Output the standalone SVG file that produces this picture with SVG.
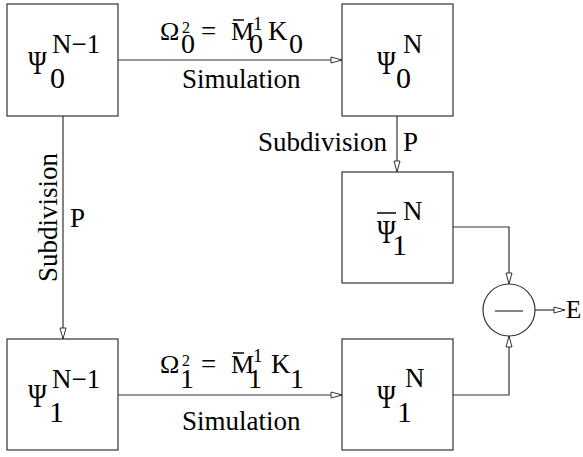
<svg xmlns="http://www.w3.org/2000/svg" width="583" height="457" viewBox="0 0 583 457">
<style>
text{font-family:"Liberation Serif","Liberation Sans",serif;fill:#000}
.box{fill:#fff;stroke:#333;stroke-width:1.2}
.ln{fill:none;stroke:#333;stroke-width:1.2}
.bar{stroke:#000;stroke-width:1.5}
.psi{font-size:34px}
.sup{font-size:27px}
.sub{font-size:30px}
.lbl{font-size:27px}
</style>
<defs>
<marker id="ah" markerUnits="userSpaceOnUse" markerWidth="12" markerHeight="8" refX="11" refY="3" orient="auto" overflow="visible">
<path d="M0,0 L11,3 L0,6 Z" fill="#fff" stroke="#333" stroke-width="1"/>
</marker>
</defs>
<g id="connectors">
<path class="ln" d="M118,60 H342" marker-end="url(#ah)"/>
<path class="ln" d="M118,395 H342" marker-end="url(#ah)"/>
<path class="ln" d="M63,116 V339" marker-end="url(#ah)"/>
<path class="ln" d="M397,116 V172" marker-end="url(#ah)"/>
<path class="ln" d="M453,227 H509 V284" marker-end="url(#ah)"/>
<path class="ln" d="M453,395 H509 V336" marker-end="url(#ah)"/>
<path class="ln" d="M535,310 H565" marker-end="url(#ah)"/>
</g>
<g id="labels">
<text class="lbl"><tspan x="160" y="40" font-size="26">Ω</tspan><tspan x="182" y="33" font-size="16">2</tspan><tspan x="181" y="53" font-size="28">0</tspan><tspan x="201" y="40">=</tspan><tspan x="231" y="40" font-size="26">M</tspan><tspan x="253" y="30" font-size="19">1</tspan><tspan x="249" y="53" font-size="28">0</tspan><tspan x="268" y="40">K</tspan><tspan x="289" y="53" font-size="28">0</tspan></text>
<line class="bar" x1="233" y1="20" x2="244" y2="20"/>
<text class="lbl" x="182" y="88">Simulation</text>
<text class="lbl"><tspan x="160" y="373" font-size="26">Ω</tspan><tspan x="182" y="366" font-size="16">2</tspan><tspan x="180" y="388" font-size="28">1</tspan><tspan x="201" y="373">=</tspan><tspan x="231" y="373" font-size="26">M</tspan><tspan x="253" y="362" font-size="19">1</tspan><tspan x="248" y="388" font-size="28">1</tspan><tspan x="271" y="373">K</tspan><tspan x="290" y="388" font-size="28">1</tspan></text>
<line class="bar" x1="233" y1="353" x2="244" y2="353"/>
<text class="lbl" x="182" y="430">Simulation</text>
<text class="lbl" x="258" y="151">Subdivision</text>
<text class="lbl" x="403" y="151">P</text>
<text class="lbl" transform="translate(57 282) rotate(-90)">Subdivision</text>
<text class="lbl" x="70" y="227">P</text>
<text style="font-size:25px" x="566" y="318">E</text>
</g>
<g id="n1">
<rect class="box" x="7" y="4" width="111" height="112"/>
<text class="psi" transform="translate(28 74) scale(0.75 1)">Ψ</text>
<text class="sup" x="52" y="53">N−1</text>
<text class="sub" x="50" y="88">0</text>
</g>
<g id="n2">
<rect class="box" x="342" y="4" width="111" height="112"/>
<text class="psi" transform="translate(377 74) scale(0.75 1)">Ψ</text>
<text class="sup" x="403" y="53">N</text>
<text class="sub" x="396" y="88">0</text>
</g>
<g id="n3">
<rect class="box" x="342" y="172" width="111" height="111"/>
<line class="bar" x1="377" y1="213" x2="396" y2="213"/>
<text class="psi" transform="translate(377 243) scale(0.75 1)">Ψ</text>
<text class="sup" x="403" y="220">N</text>
<text class="sub" x="392" y="255">1</text>
</g>
<g id="n4">
<rect class="box" x="7" y="339" width="111" height="111"/>
<text class="psi" transform="translate(28 407) scale(0.75 1)">Ψ</text>
<text class="sup" x="52" y="388">N−1</text>
<text class="sub" x="49" y="422">1</text>
</g>
<g id="n5">
<rect class="box" x="342" y="339" width="111" height="111"/>
<text class="psi" transform="translate(377 408) scale(0.75 1)">Ψ</text>
<text class="sup" x="405" y="387">N</text>
<text class="sub" x="397" y="422">1</text>
</g>
<g id="minus">
<circle class="ln" cx="509" cy="310" r="26"/>
<line class="ln" x1="495" y1="311" x2="523" y2="311"/>
</g>
</svg>
